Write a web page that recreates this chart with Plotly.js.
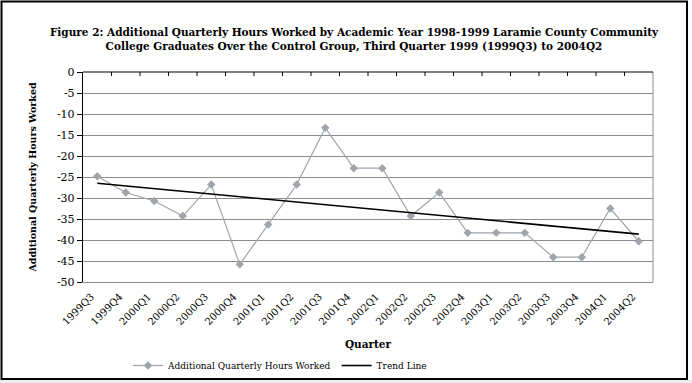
<!DOCTYPE html>
<html>
<head>
<meta charset="utf-8">
<script src="https://cdn.plot.ly/plotly-3.0.1.min.js"></script>
<style>html,body{margin:0;padding:0;background:#fff;}#chart{width:692px;height:383px;}</style>
</head>
<body>
<div id="chart"></div>
<script>
const quarters = ["1999Q3","1999Q4","2000Q1","2000Q2","2000Q3","2000Q4","2001Q1","2001Q2","2001Q3","2001Q4",
                  "2002Q1","2002Q2","2002Q3","2002Q4","2003Q1","2003Q2","2003Q3","2003Q4","2004Q1","2004Q2"];
const hoursWorked = [-24.8,-28.7,-30.7,-34.3,-26.8,-45.8,-36.3,-26.8,-13.3,-22.9,
                     -22.9,-34.3,-28.7,-38.3,-38.3,-38.3,-44.1,-44.1,-32.5,-40.3];
const trendX = ["1999Q3","2004Q2"];
const trendY = [-26.5,-38.6];
const yTicks = [0,-5,-10,-15,-20,-25,-30,-35,-40,-45,-50];

const serif = "DejaVu Serif";
const L = 83, R = 653, T = 72, B = 282, W = 692, H = 383;
const px = x => (x - L) / (R - L);
const py = y => (B - y) / (B - T);

const data = [
  {x: quarters, y: hoursWorked, type: "scatter", mode: "lines+markers",
   name: "Additional Quarterly Hours Worked",
   line: {color: "#a0a4ab", width: 1.2},
   marker: {symbol: "diamond", size: 6.5, color: "#a0a4ab"}},
  {x: trendX, y: trendY, type: "scatter", mode: "lines", name: "Trend Line",
   line: {color: "#000000", width: 1.6}}
];

// category-boundary tick marks hanging from the x axis line at y = 0 (top of plot)
const boundaryTicks = quarters.slice(1).map((q, i) => ({
  type: "line", xref: "x", yref: "paper", x0: i + 0.5, x1: i + 0.5, y0: 1, y1: 1 - 4 / (B - T),
  line: {color: "#000", width: 1}
}));

const layout = {
  width: W, height: H,
  margin: {l: L, r: W - R, t: T, b: H - B},
  paper_bgcolor: "#ffffff", plot_bgcolor: "#ffffff",
  showlegend: true,
  title: {text: "<b>Figure 2: Additional Quarterly Hours Worked by Academic Year 1998-1999 Laramie County Community<br>College Graduates Over the Control Group, Third Quarter 1999 (1999Q3) to 2004Q2</b>",
          font: {family: serif, size: 10.5, color: "#000"}, x: 354 / W, xref: "container", xanchor: "center",
          y: 1 - 36 / H, yanchor: "middle"},
  xaxis: {type: "category", categoryorder: "array", categoryarray: quarters, range: [-0.5, quarters.length - 0.5],
          automargin: false,
          showgrid: false, zeroline: false, showline: true, linecolor: "#8c8c8c", linewidth: 1,
          ticks: "", tickangle: -45, tickfont: {family: serif, size: 10, color: "#000"},
          ticklabelstandoff: 4, ticklabelshift: -6,
          title: {text: "<b>Quarter</b>", font: {family: serif, size: 10.5, color: "#000"}, standoff: 15}},
  yaxis: {range: [-50, 0], tickvals: yTicks, ticktext: yTicks.map(String), automargin: false,
          showgrid: true, gridcolor: "#8c8c8c", gridwidth: 1, zeroline: false,
          showline: true, linecolor: "#000", linewidth: 1.2, ticks: "outside", ticklen: 5, tickcolor: "#000",
          tickfont: {family: serif, size: 11, color: "#000"},
          title: {text: "<b>Additional Quarterly Hours Worked</b>", font: {family: serif, size: 9.5, color: "#000"}, standoff: 18}},
  legend: {orientation: "h", x: 128 / W, xanchor: "left", xref: "container", y: 1 - 351 / H, yanchor: "top", yref: "container",
           font: {family: serif, size: 9, color: "#000"}, bgcolor: "rgba(0,0,0,0)", itemwidth: 30, tracegroupgap: 0},
  shapes: [
    {type: "line", xref: "paper", yref: "paper", x0: 1, x1: 1, y0: 0, y1: 1,
     line: {color: "#8c8c8c", width: 1}},
    {type: "line", xref: "paper", yref: "paper", x0: 0, x1: 1, y0: 1, y1: 1,
     line: {color: "#000", width: 1.2}},
    ...boundaryTicks,
    {type: "rect", xref: "paper", yref: "paper", x0: px(0), x1: px(W), y0: py(380), y1: py(H),
     fillcolor: "#ececec", line: {width: 0}, layer: "below"},
    {type: "rect", xref: "paper", yref: "paper", x0: px(1.5), x1: px(687), y0: py(1.5), y1: py(379),
     line: {color: "#000", width: 2}}
  ]
};

Plotly.newPlot("chart", data, layout, {displayModeBar: false, staticPlot: true});
</script>
</body>
</html>
